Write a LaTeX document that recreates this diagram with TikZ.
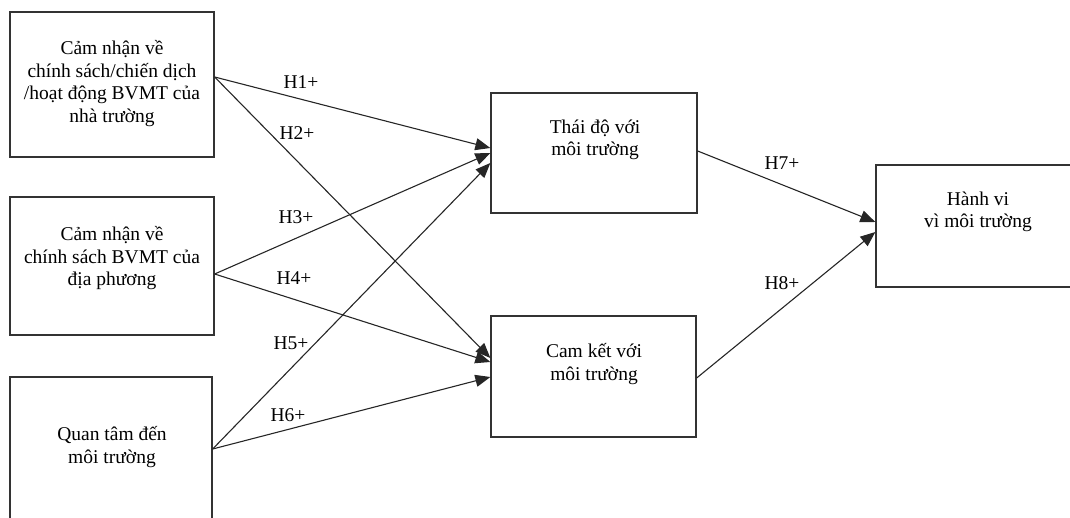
\documentclass[tikz,border=0pt]{standalone}
\usepackage{fontspec}
\setmainfont{Liberation Serif}
\usetikzlibrary{arrows.meta}
\tikzset{
    model-box/.style = {draw=black!80, line width=1.3pt, rectangle, inner sep=0pt},
    model-text/.style = {align=center, font=\fontsize{19.5}{22.5}\selectfont, inner sep=0pt},
    hyp-arrow/.style = {draw=black!85, line width=1.1pt, -{Triangle[length=15pt,width=12pt]}},
    hyp-label/.style = {font=\fontsize{19.5}{22.5}\selectfont, inner sep=0pt},
}

\begin{document}
\begin{tikzpicture}[x=1pt, y=-1pt]
\useasboundingbox (0,0) rectangle (1070,518);
\clip (0,0) rectangle (1070,518);
% boxes
\node [model-box, minimum width=204pt, minimum height=145pt] (school) at (112,84.5) {};
\node [model-box, minimum width=204pt, minimum height=138pt] (local) at (112,266) {};
\node [model-box, minimum width=202pt, minimum height=150pt] (concern) at (111,452) {};
\node [model-box, minimum width=206pt, minimum height=120pt] (attitude) at (594,153) {};
\node [model-box, minimum width=205pt, minimum height=121pt] (commit) at (593.5,376.5) {};
\node [model-box, minimum width=204pt, minimum height=122pt] (behave) at (978,226) {};
% texts
\node [model-text] (school-text) at (112,83.5) {Cảm nhận về\\chính sách/chiến dịch\\/hoạt động BVMT của\\nhà trường};
\node [model-text] (local-text) at (112,258.5) {Cảm nhận về\\chính sách BVMT của\\địa phương};
\node [model-text] (concern-text) at (112,447) {Quan tâm đến\\môi trường};
\node [model-text] (attitude-text) at (595,140) {Thái độ với\\môi trường};
\node [model-text] (commit-text) at (594,364) {Cam kết với\\môi trường};
\node [model-text] (behave-text) at (978,212) {Hành vi\\vì môi trường};
% hypotheses
\draw [hyp-arrow] (school.east |- 0,77) -- (attitude.west |- 0,148);
\draw [hyp-arrow] (school.east |- 0,77) -- (commit.west |- 0,358);
\draw [hyp-arrow] (local.east |- 0,274) -- (attitude.west |- 0,153);
\draw [hyp-arrow] (local.east |- 0,274) -- (commit.west |- 0,362);
\draw [hyp-arrow] (concern.east |- 0,449) -- (attitude.west |- 0,163);
\draw [hyp-arrow] (concern.east |- 0,449) -- (commit.west |- 0,377);
\draw [hyp-arrow] (attitude.east |- 0,151) -- (behave.west |- 0,222);
\draw [hyp-arrow] (commit.east |- 0,378) -- (behave.west |- 0,232);
\node [hyp-label] (h1) at (301,82) {H1+};
\node [hyp-label] (h2) at (297,133) {H2+};
\node [hyp-label] (h3) at (296,217) {H3+};
\node [hyp-label] (h4) at (294,278) {H4+};
\node [hyp-label] (h5) at (291,343) {H5+};
\node [hyp-label] (h6) at (288,415) {H6+};
\node [hyp-label] (h7) at (782,163) {H7+};
\node [hyp-label] (h8) at (782,283) {H8+};
\end{tikzpicture}
\end{document}
